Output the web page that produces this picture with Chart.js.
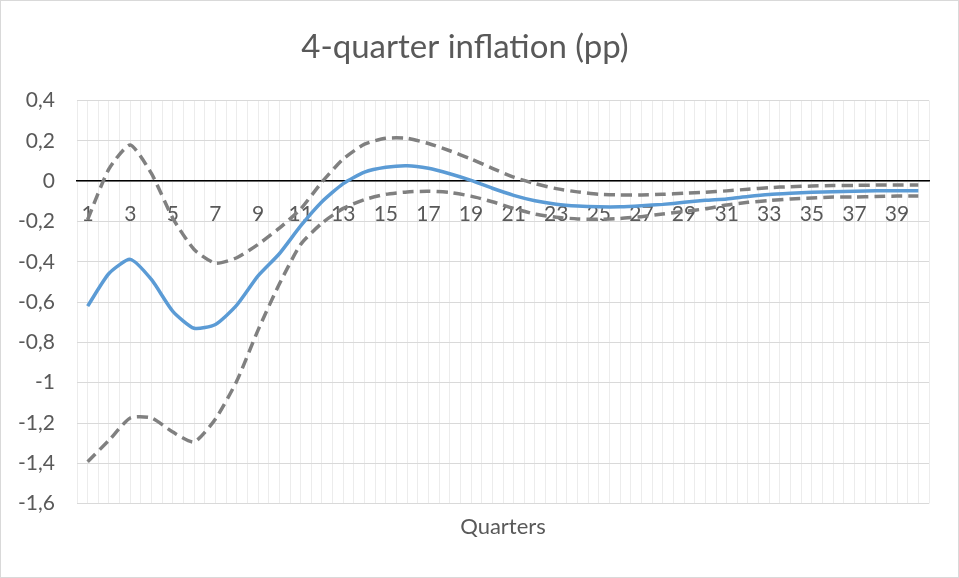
<!DOCTYPE html>
<html>
<head>
<meta charset="utf-8">
<script src="https://cdn.jsdelivr.net/npm/chart.js@4.4.1/dist/chart.umd.min.js"></script>
<style>
  html, body { margin: 0; padding: 0; background: #fff; }
  #frame { width: 959px; height: 578px; box-sizing: border-box; border: 1px solid #d9d9d9; background: #fff; }
  canvas { display: block; }
</style>
</head>
<body>
<div id="frame"><canvas id="chart" width="957" height="576"></canvas></div>
<script>
// Quarters after the shock
const quarters = [1, 2, 3, 4, 5, 6, 7, 8, 9, 10, 11, 12, 13, 14, 15, 16, 17, 18, 19, 20,
                  21, 22, 23, 24, 25, 26, 27, 28, 29, 30, 31, 32, 33, 34, 35, 36, 37, 38, 39, 40];

// Median response of 4-quarter inflation (pp)
const median = [-0.620, -0.458, -0.388, -0.489, -0.646, -0.730, -0.711, -0.615, -0.470, -0.360,
                -0.222, -0.102, -0.012, 0.045, 0.069, 0.077, 0.064, 0.037, 0.004, -0.035,
                -0.070, -0.097, -0.114, -0.123, -0.127, -0.127, -0.122, -0.115, -0.105, -0.095,
                -0.088, -0.076, -0.066, -0.060, -0.055, -0.052, -0.050, -0.048, -0.048, -0.048];

// Upper confidence band
const upper = [-0.190, 0.061, 0.180, 0.037, -0.184, -0.339, -0.407, -0.380, -0.314, -0.233,
               -0.138, -0.004, 0.110, 0.184, 0.213, 0.213, 0.187, 0.151, 0.110, 0.064,
               0.020, -0.012, -0.037, -0.053, -0.065, -0.068, -0.068, -0.065, -0.060, -0.055,
               -0.048, -0.040, -0.032, -0.027, -0.024, -0.021, -0.021, -0.019, -0.019, -0.019];

// Lower confidence band
const lower = [-1.392, -1.286, -1.175, -1.175, -1.245, -1.294, -1.180, -0.992, -0.739, -0.510,
               -0.314, -0.208, -0.135, -0.091, -0.065, -0.053, -0.050, -0.056, -0.074, -0.102,
               -0.135, -0.163, -0.179, -0.187, -0.189, -0.185, -0.176, -0.163, -0.150, -0.137,
               -0.118, -0.105, -0.096, -0.088, -0.083, -0.079, -0.078, -0.076, -0.074, -0.074];

// Value axis range and tick step
const yMin = -1.6, yMax = 0.4, yStep = 0.2;

const FONT = "Lato, 'Open Sans', sans-serif";
const TEXT = '#595959';

const toPoints = vals => quarters.map((q, i) => ({ x: q, y: vals[i] }));
const fmtComma = v => String(Math.round(v * 10) / 10).replace('.', ',');

const bandStyle = {
  borderColor: '#808080',
  borderWidth: 3.5,
  borderDash: [11, 6],
  pointRadius: 0,
  tension: 0.2,
  fill: false
};

new Chart(document.getElementById('chart'), {
  type: 'line',
  data: {
    datasets: [
      {
        label: 'Median',
        data: toPoints(median),
        borderColor: '#5b9bd5',
        borderWidth: 3.5,
        pointRadius: 0,
        tension: 0.2,
        fill: false
      },
      Object.assign({ label: 'Upper', data: toPoints(upper) }, bandStyle),
      Object.assign({ label: 'Lower', data: toPoints(lower) }, bandStyle)
    ]
  },
  options: {
    responsive: false,
    animation: false,
    layout: { padding: { left: 0, right: 29, top: 0, bottom: 33 } },
    plugins: {
      legend: { display: false },
      tooltip: { enabled: false },
      title: {
        display: true,
        text: '4-quarter inflation (pp)',
        color: TEXT,
        font: { family: FONT, size: 33, weight: 'normal' },
        padding: { top: 27, bottom: 33 }
      }
    },
    scales: {
      x: {
        type: 'linear',
        position: { y: 0 },
        min: quarters[0] - 0.5,
        max: quarters[quarters.length - 1] + 0.5,
        grid: { color: '#ececec', lineWidth: 1, drawTicks: false },
        border: { display: true, color: '#000000', width: 1.5 },
        ticks: {
          stepSize: 0.5,
          autoSkip: false,
          maxRotation: 0,
          padding: 20,
          color: TEXT,
          font: { family: FONT, size: 21 },
          callback: v => (quarters.includes(v) && quarters.indexOf(v) % 2 === 0) ? String(v) : ''
        }
      },
      xTitle: {
        type: 'linear',
        position: 'bottom',
        axis: 'x',
        min: 0,
        max: 1,
        grid: { display: false, drawTicks: false },
        border: { display: false },
        ticks: { display: false },
        title: {
          display: true,
          text: 'Quarters',
          color: TEXT,
          font: { family: FONT, size: 22 },
          padding: { top: 10, bottom: 4 }
        }
      },
      y: {
        type: 'linear',
        min: yMin,
        max: yMax,
        afterFit: s => { s.width = 76; },
        grid: { color: '#d9d9d9', lineWidth: 1, drawTicks: false },
        border: { display: false },
        ticks: {
          stepSize: yStep,
          padding: 22,
          color: TEXT,
          font: { family: FONT, size: 21 },
          callback: v => fmtComma(v)
        }
      }
    }
  }
});
</script>
</body>
</html>
